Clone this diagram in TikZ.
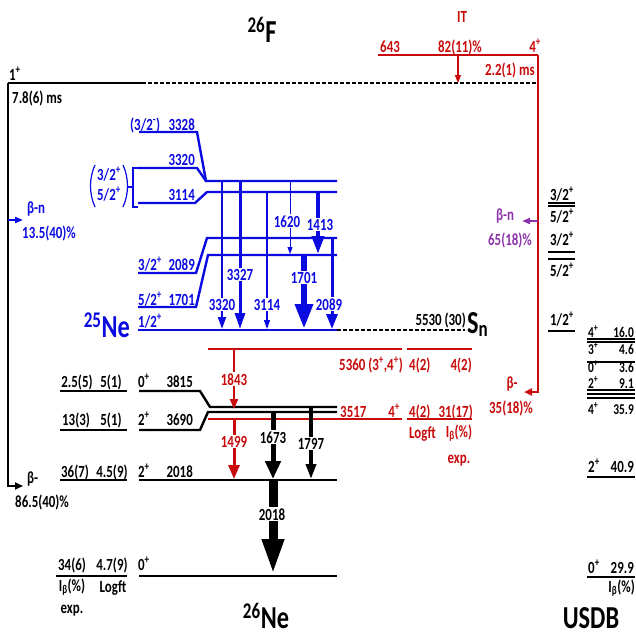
\documentclass[tikz,border=0pt]{standalone}
\usepackage{fontspec}
\setmainfont[FakeStretch=0.76, UprightFont=* Bold]{Carlito}
\usetikzlibrary{arrows.meta}
\definecolor{nblue}{RGB}{10,10,225}
\definecolor{nred}{RGB}{200,10,10}
\definecolor{npurple}{RGB}{140,50,170}

\begin{document}
\begin{tikzpicture}[x=1pt, y=-1pt,
  every node/.style={inner sep=0pt, font=\fontsize{17}{19}\selectfont},
  big/.style={font=\fontsize{32}{34}\selectfont},
  lev/.style={line width=2.4pt},
  gl/.style={fill=white, inner sep=1pt},
  gam/.style n args={3}{line width=#1, -{Triangle[width=#2, length=#3]}}]
\useasboundingbox (0,0) rectangle (636,637);

% Parent 26F
\node[big, anchor=base] (t26F) at (262,42) {\textsuperscript{26}F};
\draw[line width=2.5pt] (8,83) -- (142,83);
\draw[line width=2pt, dash pattern=on 4pt off 2pt] (142,83) -- (538,83);
\node[anchor=base west] (s1p) at (9,80) {1\textsuperscript{+}};
\node[anchor=base west] (hl1) at (12,103) {7.8(6) ms};

% Isomer
\draw[nred, line width=2pt] (378,55) -- (538,55);
\draw[nred, line width=2pt, -{Triangle[width=7pt, length=8pt]}] (538,55) -- (538,392) -- (524,392);
\draw[nred, line width=1.5pt, -{Triangle[width=6pt, length=8pt]}] (458,55) -- (458,83);
\node[nred, anchor=base] (tIT) at (462,23) {IT};
\node[nred, anchor=base west] (e643) at (380,52) {643};
\node[nred, anchor=base] (pIT) at (460,52) {82(11)\%};
\node[nred, anchor=base east] (s4p) at (541,52) {4\textsuperscript{+}};
\node[nred, anchor=base east] (hl2) at (535,75) {2.2(1) ms};
\node[nred, anchor=base] (bm2) at (512,388) {β-};
\node[nred, anchor=base] (pbm2) at (511,413) {35(18)\%};
\draw[npurple, line width=1.8pt, -{Triangle[width=6pt, length=8pt]}] (538,221) -- (522,221);
\node[npurple, anchor=base] (bn2) at (505,220) {β-n};
\node[npurple, anchor=base] (pbn2) at (510,245) {65(18)\%};

% Left decay branches
\draw[line width=1.8pt, -{Triangle[width=7pt, length=8pt]}] (8,83) -- (8,486) -- (23,486);
\draw[nblue, line width=1.8pt, -{Triangle[width=6pt, length=8pt]}] (8,220) -- (23,220);
\node[nblue, anchor=base west] (bn1) at (27,213) {β-n};
\node[nblue, anchor=base west] (pbn1) at (22,238) {13.5(40)\%};
\node[anchor=base west] (bm1) at (27,483) {β-};
\node[anchor=base west] (pbm1) at (15,507) {86.5(40)\%};

% 25Ne levels
\draw[nblue, lev] (139,132) -- (197,132) -- (206,181) -- (337,181);
\draw[nblue, lev] (138,168) -- (197,168) -- (206,181);
\draw[nblue, lev] (138,203) -- (195,203) -- (207,192) -- (337,192);
\draw[nblue, lev] (138,273) -- (196,273) -- (207,238) -- (337,238);
\draw[nblue, lev] (138,307) -- (196,307) -- (208,255) -- (337,255);
\draw[nblue, lev] (138,330) -- (337,330);
\draw[line width=2pt, dash pattern=on 4pt off 2pt] (337,330) -- (465,330);
\draw[nblue, line width=1.2pt] (138,168) -- (133,168) -- (133,207) -- (138,207);
\draw[nblue, line width=1.2pt] (127,187) -- (133,187);
\draw[nblue, line width=1.2pt] (95,165) .. controls (89,178) and (89,194) .. (95,207);
\draw[nblue, line width=1.2pt] (123,165) .. controls (129,178) and (129,194) .. (123,207);
\node[nblue, anchor=base west] (s3328) at (130,130) {(3/2\textsuperscript{-})};
\node[nblue, anchor=base east] (e3328) at (195,130) {3328};
\node[nblue, anchor=base east] (e3320) at (195,165) {3320};
\node[nblue, anchor=base east] (e3114) at (195,200) {3114};
\node[nblue, anchor=base] (s3320) at (109,180) {3/2\textsuperscript{+}};
\node[nblue, anchor=base] (s3114) at (109,200) {5/2\textsuperscript{+}};
\node[nblue, anchor=base west] (s2089) at (138,270) {3/2\textsuperscript{+}};
\node[nblue, anchor=base east] (e2089) at (195,270) {2089};
\node[nblue, anchor=base west] (s1701) at (138,305) {5/2\textsuperscript{+}};
\node[nblue, anchor=base east] (e1701) at (195,305) {1701};
\node[nblue, anchor=base west] (s0) at (138,327) {1/2\textsuperscript{+}};
\node[nblue, big, anchor=base east] (t25Ne) at (130,337) {\textsuperscript{25}Ne};
\node[anchor=base east] (eSn) at (466,325) {5530 (30)};
\node[big, anchor=base west] (tSn) at (467,333) {S\textsubscript{n}};

% 25Ne gammas
\draw[nblue, gam={2pt}{8pt}{12pt}] (222,182) -- (222,329);
\draw[nblue, gam={3pt}{10pt}{16pt}] (240,182) -- (240,329);
\draw[nblue, gam={1.5pt}{6pt}{9pt}] (267,192) -- (267,329);
\draw[nblue, gam={1pt}{5pt}{7pt}] (290,182) -- (290,254);
\draw[nblue, gam={4pt}{12pt}{18pt}] (318,192) -- (318,254);
\draw[nblue, gam={6pt}{17pt}{25pt}] (304,255) -- (304,329);
\draw[nblue, gam={3pt}{11pt}{15pt}] (332,238) -- (332,329);
\node[nblue, gl, anchor=base] (g3320) at (222,310) {3320};
\node[nblue, gl, anchor=base] (g3327) at (240,280) {3327};
\node[nblue, gl, anchor=base] (g3114) at (267,310) {3114};
\node[nblue, gl, anchor=base] (g1620) at (287,227) {1620};
\node[nblue, gl, anchor=base] (g1413) at (320,230) {1413};
\node[nblue, gl, anchor=base] (g1701) at (304,283) {1701};
\node[nblue, gl, anchor=base] (g2089) at (329,310) {2089};

% 26Ne levels
\draw[lev] (139,391) -- (200,391) -- (210,407) -- (337,407);
\draw[lev] (139,430) -- (200,430) -- (208,412) -- (337,412);
\draw[lev] (139,480) -- (337,480);
\draw[lev] (139,576) -- (337,576);
\draw[nred, lev] (208,349) -- (402,349);
\draw[nred, lev] (407,349) -- (472,349);
\draw[nred, lev] (208,419) -- (402,419);
\draw[nred, lev] (407,419) -- (472,419);
\draw[lev] (60,391) -- (127,391);
\draw[lev] (60,430) -- (127,430);
\draw[lev] (60,480) -- (127,480);
\draw[lev] (56,576) -- (127,576);
\node[anchor=base west] (s3815) at (138,387) {0\textsuperscript{+}};
\node[anchor=base east] (e3815) at (193,387) {3815};
\node[anchor=base west] (s3690) at (138,425) {2\textsuperscript{+}};
\node[anchor=base east] (e3690) at (193,425) {3690};
\node[anchor=base west] (s2018) at (138,477) {2\textsuperscript{+}};
\node[anchor=base east] (e2018) at (193,477) {2018};
\node[anchor=base west] (s0g) at (138,570) {0\textsuperscript{+}};
\node[anchor=base] (i3815) at (77,387) {2.5(5)};
\node[anchor=base] (f3815) at (111,387) {5(1)};
\node[anchor=base] (i3690) at (76,425) {13(3)};
\node[anchor=base] (f3690) at (111,425) {5(1)};
\node[anchor=base] (i2018) at (75,477) {36(7)};
\node[anchor=base] (f2018) at (112,477) {4.5(9)};
\node[anchor=base] (i0) at (72,570) {34(6)};
\node[anchor=base] (f0) at (112,570) {4.7(9)};
\node[anchor=base] (hIb) at (72,591) {I\textsubscript{β}(\%)};
\node[anchor=base] (hLf) at (113,592) {Logft};
\node[anchor=base] (hexp) at (72,613) {exp.};
\node[nred, anchor=base east] (e5360) at (403,370) {5360 (3\textsuperscript{+},4\textsuperscript{+})};
\node[nred, anchor=base west] (f5360) at (409,370) {4(2)};
\node[nred, anchor=base east] (i5360) at (472,370) {4(2)};
\node[nred, anchor=base west] (e3517) at (340,417) {3517};
\node[nred, anchor=base east] (s3517) at (400,417) {4\textsuperscript{+}};
\node[nred, anchor=base west] (f3517) at (409,417) {4(2)};
\node[nred, anchor=base east] (i3517) at (473,417) {31(17)};
\node[nred, anchor=base west] (hLf2) at (409,438) {Logft};
\node[nred, anchor=base] (hIb2) at (459,437) {I\textsubscript{β}(\%)};
\node[nred, anchor=base] (hexp2) at (459,463) {exp.};
\node[big, anchor=base] (t26Ne) at (266,628) {\textsuperscript{26}Ne};

% 26Ne gammas
\draw[nred, gam={2pt}{8pt}{10pt}] (234,349) -- (234,409);
\draw[nred, gam={3pt}{11pt}{14pt}] (234,419) -- (234,479);
\draw[gam={5pt}{15pt}{18pt}] (273,411) -- (273,479);
\draw[gam={3.5pt}{10pt}{15pt}] (311,407) -- (311,479);
\draw[gam={9pt}{20pt}{36pt}] (273,480) -- (273,575);
\node[nred, gl, anchor=base] (g1843) at (234,385) {1843};
\node[nred, gl, anchor=base] (g1499) at (234,447) {1499};
\node[gl, anchor=base] (g1673) at (273,443) {1673};
\node[gl, anchor=base] (g1797) at (311,449) {1797};
\node[gl, anchor=base] (g2018) at (272,520) {2018};

% USDB 25Ne
\draw[line width=2pt] (548,203) -- (575,203);
\draw[line width=2pt] (548,206) -- (575,206);
\draw[line width=2pt] (548,252) -- (575,252);
\draw[line width=2pt] (548,259) -- (575,259);
\draw[line width=2pt] (548,331) -- (575,331);
\node[anchor=base] (u3a) at (562,200) {3/2\textsuperscript{+}};
\node[anchor=base] (u5a) at (562,222) {5/2\textsuperscript{+}};
\node[anchor=base] (u3b) at (562,245) {3/2\textsuperscript{+}};
\node[anchor=base] (u5b) at (562,276) {5/2\textsuperscript{+}};
\node[anchor=base] (u1) at (562,325) {1/2\textsuperscript{+}};

% USDB 26Ne
\draw[line width=2pt] (587,339) -- (635,339);
\draw[line width=2pt] (587,342) -- (635,342);
\draw[line width=2pt] (587,362) -- (635,362);
\draw[line width=1.5pt] (587,390) -- (635,390);
\draw[line width=2pt] (587,394) -- (635,394);
\draw[line width=2pt] (587,398) -- (635,398);
\draw[line width=2pt] (587,477) -- (635,477);
\draw[line width=2pt] (587,577) -- (635,577);
\begin{scope}[every node/.style={inner sep=0pt, font=\fontsize{15}{16}\selectfont}]
\node[anchor=base west] (us1) at (588,337) {4\textsuperscript{+}};
\node[anchor=base east] (ub1) at (634,337) {16.0};
\node[anchor=base west] (us2) at (588,354) {3\textsuperscript{+}};
\node[anchor=base east] (ub2) at (634,354) {4.6};
\node[anchor=base west] (us3) at (588,372) {0\textsuperscript{+}};
\node[anchor=base east] (ub3) at (634,372) {3.6};
\node[anchor=base west] (us4) at (588,388) {2\textsuperscript{+}};
\node[anchor=base east] (ub4) at (634,388) {9.1};
\node[anchor=base west] (us5) at (588,414) {4\textsuperscript{+}};
\node[anchor=base east] (ub5) at (634,414) {35.9};
\end{scope}
\node[anchor=base west] (us6) at (588,472) {2\textsuperscript{+}};
\node[anchor=base east] (ub6) at (634,472) {40.9};
\node[anchor=base west] (us7) at (588,573) {0\textsuperscript{+}};
\node[anchor=base east] (ub7) at (634,573) {29.9};
\node[anchor=base east] (uIb) at (635,592) {I\textsubscript{β}(\%)};
\node[big, anchor=base] (tUSDB) at (591,628) {USDB};
\end{tikzpicture}
\end{document}
